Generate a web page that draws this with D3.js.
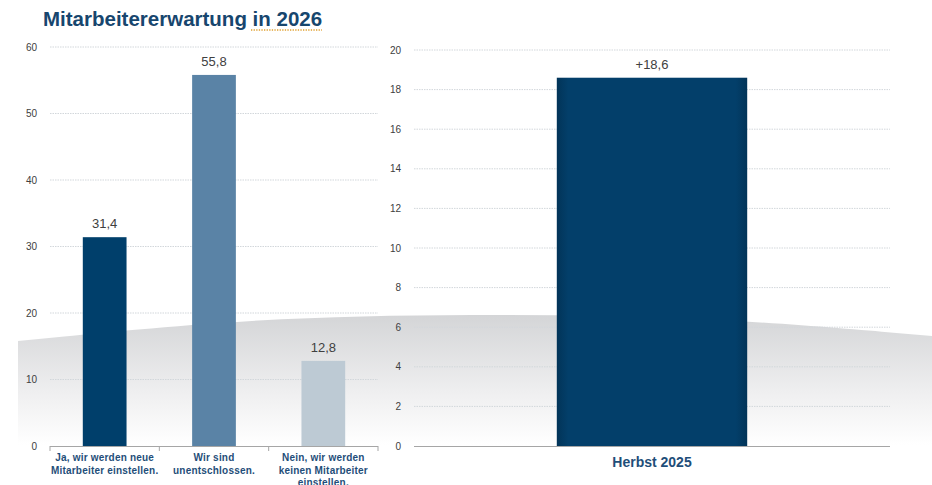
<!doctype html>
<html>
  <head>
    <meta charset="utf-8">
    <title>Mitarbeitererwartung in 2026</title>
    <script src="https://cdnjs.cloudflare.com/ajax/libs/d3/7.8.5/d3.min.js"></script>
    <style>
      body { margin: 0; background: #fff; font-family: "Liberation Sans", Arial, sans-serif; }
      svg { display: block; }
    </style>
  </head>
  <body>
    <div id="chart"></div>
    <script>
      // data
      const leftCategories = [
        ['Ja, wir werden neue', 'Mitarbeiter einstellen.'],
        ['Wir sind', 'unentschlossen.'],
        ['Nein, wir werden', 'keinen Mitarbeiter', 'einstellen.']
      ];
      const leftValues = [31.4, 55.8, 12.8];
      const leftLabels = ['31,4', '55,8', '12,8'];
      const leftTicks = [0, 10, 20, 30, 40, 50, 60];

      const rightCategories = ['Herbst 2025'];
      const rightValues = [18.6];
      const rightLabels = ['+18,6'];
      const rightTicks = [0, 2, 4, 6, 8, 10, 12, 14, 16, 18, 20];

      const W = 932, H = 485;
      const svg = d3.select('#chart').append('svg')
        .attr('width', W).attr('height', H);

      const defs = svg.append('defs');
      const bg = defs.append('linearGradient').attr('id', 'swoosh')
        .attr('x1', 0).attr('y1', 0).attr('x2', 0).attr('y2', 1);
      bg.append('stop').attr('offset', '0%').attr('stop-color', '#d4d5d7');
      bg.append('stop').attr('offset', '60%').attr('stop-color', '#efeff0');
      bg.append('stop').attr('offset', '100%').attr('stop-color', '#ffffff');

      const barGrad = defs.append('linearGradient').attr('id', 'barShade')
        .attr('x1', 0).attr('y1', 0).attr('x2', 1).attr('y2', 0);
      barGrad.append('stop').attr('offset', '0%').attr('stop-color', '#023458');
      barGrad.append('stop').attr('offset', '6%').attr('stop-color', '#033f6a');
      barGrad.append('stop').attr('offset', '94%').attr('stop-color', '#033f6a');
      barGrad.append('stop').attr('offset', '100%').attr('stop-color', '#023458');

      // grey background swoosh
      const curve = d3.line().curve(d3.curveBasis);
      const swooshTop = curve([[18, 341], [250, 318], [470, 314], [700, 316], [932, 336]]);
      svg.append('path')
        .attr('d', swooshTop + ' L932,445 L18,445 Z')
        .attr('fill', 'url(#swoosh)');

      // title
      svg.append('text')
        .attr('x', 43).attr('y', 26)
        .attr('font-size', 20.5).attr('font-weight', 'bold')
        .attr('fill', '#17466e')
        .text('Mitarbeitererwartung in 2026');
      svg.append('line')
        .attr('x1', 251).attr('x2', 322).attr('y1', 30).attr('y2', 30)
        .attr('stroke', '#e0a030').attr('stroke-width', 1.3)
        .attr('stroke-dasharray', '1.3,1.3');

      function drawPanel(opts) {
        const g = svg.append('g');
        const x = d3.scaleBand()
          .domain(opts.categories.map((d, i) => i))
          .range([opts.x0, opts.x1])
          .paddingInner(0.6).paddingOuter(0.3);
        const y = d3.scaleLinear()
          .domain([0, opts.max])
          .range([446, opts.yTop]);

        // gridlines
        g.append('g').selectAll('line')
          .data(opts.ticks.filter(t => t > 0))
          .join('line')
          .attr('x1', opts.x0).attr('x2', opts.x1)
          .attr('y1', d => y(d)).attr('y2', d => y(d))
          .attr('stroke', '#d2d7db').attr('stroke-width', 1)
          .attr('stroke-dasharray', '1.5,1');

        // y axis labels
        g.append('g').selectAll('text')
          .data(opts.ticks)
          .join('text')
          .attr('x', opts.x0 - 13).attr('y', d => y(d) + 3.5)
          .attr('text-anchor', 'end')
          .attr('font-size', 10).attr('fill', '#404040')
          .text(d => d);

        // bars
        g.append('g').selectAll('rect')
          .data(opts.values)
          .join('rect')
          .attr('x', (d, i) => x(i))
          .attr('y', d => y(d))
          .attr('width', x.bandwidth())
          .attr('height', d => y(0) - y(d))
          .attr('fill', (d, i) => opts.colors[i]);

        // value labels
        g.append('g').selectAll('text')
          .data(opts.values)
          .join('text')
          .attr('x', (d, i) => x(i) + x.bandwidth() / 2)
          .attr('y', d => y(d) - 9)
          .attr('text-anchor', 'middle')
          .attr('font-size', 13).attr('fill', '#404040')
          .text((d, i) => opts.labels[i]);

        // x axis
        g.append('line')
          .attr('x1', opts.x0).attr('x2', opts.x1)
          .attr('y1', 446.5).attr('y2', 446.5)
          .attr('stroke', '#a6a6a6').attr('stroke-width', 1);
        if (opts.tickMarks) {
          const step = (opts.x1 - opts.x0) / opts.categories.length;
          g.append('g').selectAll('line')
            .data(d3.range(opts.categories.length + 1))
            .join('line')
            .attr('x1', i => opts.x0 + i * step).attr('x2', i => opts.x0 + i * step)
            .attr('y1', 446).attr('y2', 451)
            .attr('stroke', '#a6a6a6');
        }
        return { g, x, y };
      }

      const left = drawPanel({
        x0: 50, x1: 378, yTop: 47, max: 60,
        categories: leftCategories, values: leftValues, labels: leftLabels,
        ticks: leftTicks, colors: ['#003f6b', '#5a83a6', '#bdcad4'], tickMarks: true
      });
      left.g.append('g').selectAll('text')
        .data(leftCategories)
        .join('text')
        .attr('x', (d, i) => left.x(i) + left.x.bandwidth() / 2)
        .attr('y', 461)
        .attr('text-anchor', 'middle')
        .attr('font-size', 10).attr('font-weight', 'bold')
        .attr('letter-spacing', 0.2)
        .attr('fill', '#1f4e79')
        .each(function (lines) {
          d3.select(this).selectAll('tspan')
            .data(lines)
            .join('tspan')
            .attr('x', d3.select(this).attr('x'))
            .attr('dy', (d, i) => i === 0 ? 0 : 12.5)
            .text(d => d);
        });

      const right = drawPanel({
        x0: 414, x1: 890, yTop: 50, max: 20,
        categories: rightCategories, values: rightValues, labels: rightLabels,
        ticks: rightTicks, colors: ['url(#barShade)'], tickMarks: false
      });
      right.g.append('g').selectAll('text')
        .data(rightCategories)
        .join('text')
        .attr('x', (d, i) => right.x(i) + right.x.bandwidth() / 2)
        .attr('y', 467)
        .attr('text-anchor', 'middle')
        .attr('font-size', 14).attr('font-weight', 'bold')
        .attr('fill', '#1f4e79')
        .text(d => d);
    </script>
  </body>
</html>
